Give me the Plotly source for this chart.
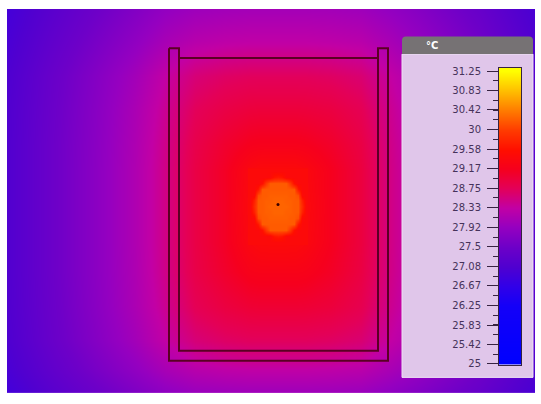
import plotly.graph_objects as go

# ---- thermal field samples (temperature in °C) ----
GRID_X = [7, 50, 95, 135, 165, 195, 225, 250, 260, 270, 278, 286, 296, 306, 331, 361, 391, 420, 480, 535]
GRID_Y = [7, 40, 75, 110, 145, 172, 208, 244, 275, 310, 345, 375, 398]

ROW_Y7 = [26.92, 27.21, 27.48, 27.71, 27.89, 27.99, 28.03, 28.05, 28.05, 28.05, 28.05, 28.05, 28.05, 28.05, 28.04, 28.00, 27.88, 27.74, 27.40, 27.00]
ROW_Y40 = [26.99, 27.30, 27.60, 27.86, 28.08, 28.22, 28.28, 28.30, 28.30, 28.30, 28.30, 28.30, 28.30, 28.30, 28.28, 28.24, 28.08, 27.90, 27.52, 27.08]
ROW_Y75 = [27.06, 27.40, 27.73, 28.04, 28.33, 28.58, 28.68, 28.72, 28.72, 28.72, 28.72, 28.72, 28.72, 28.72, 28.69, 28.61, 28.33, 28.09, 27.64, 27.16]
ROW_Y110 = [27.09, 27.43, 27.77, 28.11, 28.43, 28.74, 28.88, 28.95, 28.96, 28.96, 28.96, 28.96, 28.96, 28.95, 28.91, 28.78, 28.43, 28.15, 27.68, 27.18]
ROW_Y145 = [27.10, 27.45, 27.79, 28.14, 28.48, 28.84, 29.05, 29.18, 29.20, 29.20, 29.20, 29.20, 29.20, 29.18, 29.08, 28.89, 28.48, 28.19, 27.70, 27.20]
ROW_Y172 = [27.10, 27.45, 27.80, 28.15, 28.50, 28.88, 29.12, 29.38, 29.44, 29.45, 29.45, 29.45, 29.44, 29.38, 29.17, 28.93, 28.50, 28.20, 27.70, 27.20]
ROW_Y208 = [27.10, 27.45, 27.80, 28.15, 28.50, 28.88, 29.12, 29.42, 29.47, 29.50, 29.50, 29.50, 29.47, 29.42, 29.17, 28.93, 28.50, 28.20, 27.70, 27.20]
ROW_Y244 = [27.10, 27.45, 27.80, 28.15, 28.50, 28.88, 29.12, 29.38, 29.44, 29.45, 29.45, 29.45, 29.44, 29.38, 29.17, 28.93, 28.50, 28.20, 27.70, 27.20]
ROW_Y275 = [27.10, 27.45, 27.80, 28.14, 28.49, 28.86, 29.07, 29.23, 29.25, 29.25, 29.25, 29.25, 29.25, 29.23, 29.11, 28.90, 28.49, 28.19, 27.70, 27.20]
ROW_Y310 = [27.09, 27.43, 27.78, 28.12, 28.44, 28.77, 28.92, 29.00, 29.01, 29.01, 29.01, 29.01, 29.01, 29.00, 28.95, 28.81, 28.44, 28.16, 27.68, 27.19]
ROW_Y345 = [27.06, 27.40, 27.73, 28.04, 28.33, 28.58, 28.68, 28.72, 28.72, 28.72, 28.72, 28.72, 28.72, 28.72, 28.69, 28.61, 28.33, 28.09, 27.64, 27.16]
ROW_Y375 = [26.99, 27.30, 27.60, 27.86, 28.08, 28.22, 28.28, 28.30, 28.30, 28.30, 28.30, 28.30, 28.30, 28.30, 28.28, 28.24, 28.08, 27.90, 27.52, 27.08]
ROW_Y398 = [26.90, 27.19, 27.45, 27.67, 27.84, 27.95, 27.98, 28.00, 28.00, 28.00, 28.00, 28.00, 28.00, 28.00, 27.99, 27.96, 27.84, 27.70, 27.38, 26.98]

TEMPS = [ROW_Y7, ROW_Y40, ROW_Y75, ROW_Y110, ROW_Y145, ROW_Y172, ROW_Y208,
         ROW_Y244, ROW_Y275, ROW_Y310, ROW_Y345, ROW_Y375, ROW_Y398]

# ---- finer samples around the warm spot in the centre ----
SPOT_X = [250, 254, 258, 262, 266, 270, 274, 278, 282, 286, 290, 294, 298, 302, 306]
SPOT_Y = [172, 178, 184, 190, 196, 202, 208, 214, 220, 226, 232, 238, 244]
SPOT_Y172 = [29.45, 29.45, 29.45, 29.45, 29.45, 29.45, 29.45, 29.45, 29.45, 29.45, 29.45, 29.45, 29.45, 29.45, 29.45]
SPOT_Y178 = [29.45, 29.45, 29.45, 29.45, 29.45, 29.46, 29.63, 29.68, 29.63, 29.46, 29.45, 29.45, 29.45, 29.45, 29.45]
SPOT_Y184 = [29.45, 29.45, 29.45, 29.56, 29.96, 30.20, 30.20, 30.20, 30.20, 30.20, 29.96, 29.56, 29.45, 29.45, 29.45]
SPOT_Y190 = [29.45, 29.45, 29.66, 30.20, 30.20, 30.20, 30.20, 30.20, 30.20, 30.20, 30.20, 30.20, 29.66, 29.45, 29.45]
SPOT_Y196 = [29.45, 29.48, 30.12, 30.20, 30.20, 30.23, 30.23, 30.23, 30.23, 30.23, 30.20, 30.20, 30.12, 29.48, 29.45]
SPOT_Y202 = [29.45, 29.74, 30.20, 30.20, 30.23, 30.23, 30.26, 30.26, 30.26, 30.23, 30.23, 30.20, 30.20, 29.74, 29.45]
SPOT_Y208 = [29.45, 29.83, 30.20, 30.20, 30.23, 30.26, 30.26, 30.26, 30.26, 30.26, 30.23, 30.20, 30.20, 29.83, 29.45]
SPOT_Y214 = [29.45, 29.74, 30.20, 30.20, 30.23, 30.23, 30.26, 30.26, 30.26, 30.23, 30.23, 30.20, 30.20, 29.74, 29.45]
SPOT_Y220 = [29.45, 29.48, 30.12, 30.20, 30.20, 30.23, 30.23, 30.23, 30.23, 30.23, 30.20, 30.20, 30.12, 29.48, 29.45]
SPOT_Y226 = [29.45, 29.45, 29.66, 30.20, 30.20, 30.20, 30.20, 30.20, 30.20, 30.20, 30.20, 30.20, 29.66, 29.45, 29.45]
SPOT_Y232 = [29.45, 29.45, 29.45, 29.56, 29.96, 30.20, 30.20, 30.20, 30.20, 30.20, 29.96, 29.56, 29.45, 29.45, 29.45]
SPOT_Y238 = [29.45, 29.45, 29.45, 29.45, 29.45, 29.46, 29.63, 29.68, 29.63, 29.46, 29.45, 29.45, 29.45, 29.45, 29.45]
SPOT_Y244 = [29.45, 29.45, 29.45, 29.45, 29.45, 29.45, 29.45, 29.45, 29.45, 29.45, 29.45, 29.45, 29.45, 29.45, 29.45]
SPOT_TEMPS = [SPOT_Y172, SPOT_Y178, SPOT_Y184, SPOT_Y190, SPOT_Y196, SPOT_Y202, SPOT_Y208,
              SPOT_Y214, SPOT_Y220, SPOT_Y226, SPOT_Y232, SPOT_Y238, SPOT_Y244]

# hot-spot measurement point
HOTSPOT_X = [278]
HOTSPOT_Y = [206]

# container outline (drawn overlay)
CONTAINER_X = [169, 179, 179, 378, 378, 388, 388, 169, 169]
CONTAINER_Y = [47, 47, 355, 355, 47, 47, 365, 365, 47]
LID_X = [179, 378]
LID_Y = [57, 57]

# colour scale
SCALE_MIN = 25.0
SCALE_MAX = 31.25
TICK_VALUES = [31.25, 30.83, 30.42, 30, 29.58, 29.17, 28.75, 28.33, 27.92, 27.5, 27.08, 26.67, 26.25, 25.83, 25.42, 25]
TICK_LABELS = ["31.25", "30.83", "30.42", "30", "29.58", "29.17", "28.75", "28.33", "27.92", "27.5", "27.08", "26.67", "26.25", "25.83", "25.42", "25"]
UNIT = "°C"

PALETTE = [
    [0.0, "rgb(0,0,255)"],
    [0.2, "rgb(20,0,248)"],
    [0.267, "rgb(50,0,232)"],
    [0.333, "rgb(80,0,208)"],
    [0.4, "rgb(110,0,200)"],
    [0.467, "rgb(150,0,192)"],
    [0.533, "rgb(194,0,165)"],
    [0.6, "rgb(228,0,88)"],
    [0.667, "rgb(246,0,30)"],
    [0.733, "rgb(255,15,0)"],
    [0.8, "rgb(255,60,0)"],
    [0.867, "rgb(255,125,0)"],
    [0.933, "rgb(255,190,0)"],
    [1.0, "rgb(255,255,0)"],
]

W, H = 541, 404
DARK = "rgb(55,35,65)"

fig = go.Figure()

# thermal image
fig.add_trace(go.Heatmap(
    x=GRID_X, y=GRID_Y, z=TEMPS, zmin=SCALE_MIN, zmax=SCALE_MAX,
    colorscale=PALETTE, zsmooth="best", showscale=False, hoverinfo="skip",
    xaxis="x", yaxis="y"))
fig.add_trace(go.Heatmap(
    x=SPOT_X, y=SPOT_Y, z=SPOT_TEMPS, zmin=SCALE_MIN, zmax=SCALE_MAX,
    colorscale=PALETTE, zsmooth="best", showscale=False, hoverinfo="skip",
    xaxis="x", yaxis="y"))

# container outline
fig.add_trace(go.Scatter(x=CONTAINER_X, y=CONTAINER_Y, mode="lines",
                         line=dict(color="rgb(90,0,35)", width=2), hoverinfo="skip"))
fig.add_trace(go.Scatter(x=LID_X, y=LID_Y, mode="lines",
                         line=dict(color="rgb(90,0,35)", width=2), hoverinfo="skip"))

# hot spot
fig.add_trace(go.Scatter(x=HOTSPOT_X, y=HOTSPOT_Y, mode="markers",
                         marker=dict(size=3, color="rgb(60,0,0)"), hoverinfo="skip"))

# legend panel body
fig.add_trace(go.Scatter(x=[402, 533, 533, 402, 402], y=[53, 53, 382, 382, 53],
                         mode="lines", fill="toself", fillcolor="rgb(224,198,234)",
                         line=dict(color="rgb(238,224,244)", width=1), hoverinfo="skip"))

# colour bar (own axes)
fig.add_trace(go.Heatmap(
    x=[0, 1], y=TICK_VALUES, z=[[v, v] for v in TICK_VALUES],
    zmin=SCALE_MIN, zmax=SCALE_MAX, colorscale=PALETTE, zsmooth="best",
    showscale=False, hoverinfo="skip", xaxis="x2", yaxis="y2"))

fig.add_trace(go.Scatter(x=[-0.27, -0.24], y=[SCALE_MAX, SCALE_MIN], mode="markers",
                         marker=dict(symbol=["triangle-right", "circle"], size=[9, 7], color="black"),
                         cliponaxis=False, hoverinfo="skip", xaxis="x2", yaxis="y2"))

fig.update_layout(
    width=W, height=H, margin=dict(l=0, r=0, t=0, b=0),
    paper_bgcolor="white", plot_bgcolor="white", showlegend=False,
    xaxis=dict(domain=[7 / W, 535 / W], range=[7, 535], visible=False),
    yaxis=dict(domain=[1 - 398 / H, 1 - 7 / H], range=[398, 7], visible=False),
    xaxis2=dict(domain=[499 / W, 521 / W], range=[0, 1], anchor="y2",
                showticklabels=False, ticks="", showgrid=False, zeroline=False,
                showline=True, mirror=True, linecolor=DARK, linewidth=1),
    yaxis2=dict(domain=[1 - 369 / H, 1 - 67 / H], range=[24.985, 31.32], anchor="x2",
                side="left", tickmode="array", tickvals=TICK_VALUES, ticktext=TICK_LABELS,
                ticks="outside", ticklen=11, tickwidth=1, tickcolor=DARK,
                ticklabelstandoff=4,
                tickfont=dict(family="DejaVu Sans", size=10, color="rgb(70,50,90)"),
                showgrid=False, zeroline=False,
                showline=True, mirror=True, linecolor=DARK, linewidth=1,
                minor=dict(tickmode="linear", tick0=25, dtick=6.25 / 30, ticks="outside",
                           ticklen=5, tickwidth=1, tickcolor=DARK, showgrid=False)),
    shapes=[dict(type="path", xref="x", yref="y", layer="above",
                 path="M 402,53 L 402,39 Q 402,35 406,35 L 529,35 Q 533,35 533,39 L 533,53 Z",
                 fillcolor="rgb(118,114,116)", line=dict(width=0))],
    annotations=[dict(x=432, y=44, xref="x", yref="y", text="<b>" + UNIT + "</b>",
                      showarrow=False, font=dict(family="DejaVu Sans", size=10, color="white"))],
)

fig.write_html("out.html", config={"displayModeBar": False, "staticPlot": True},
               post_script="document.body.style.margin='0px';document.body.style.overflow='hidden';")
